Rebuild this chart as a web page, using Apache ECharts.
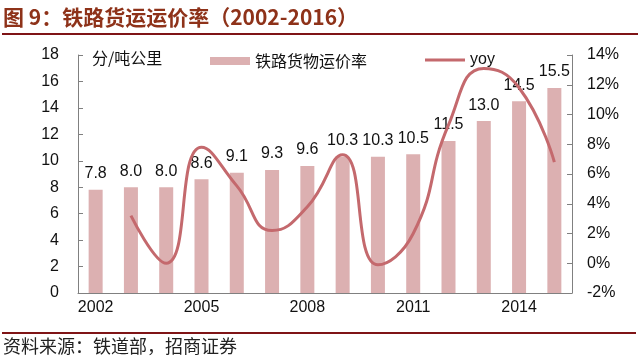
<!DOCTYPE html>
<html>
<head>
<meta charset="utf-8">
<script src="https://cdn.jsdelivr.net/npm/echarts@6/dist/echarts.min.js"></script>
<style>html,body{margin:0;padding:0;background:#fff}#c{width:640px;height:360px}</style>
</head>
<body>
<div id="c"></div>
<script>
var years = ['2002','2003','2004','2005','2006','2007','2008','2009','2010','2011','2012','2013','2014','2015'];
var freightRate = [7.8, 8.0, 8.0, 8.6, 9.1, 9.3, 9.6, 10.3, 10.3, 10.5, 11.5, 13.0, 14.5, 15.5];
var yoy = [null, 3.2, 0.0, 7.8, 5.2, 2.2, 3.8, 7.3, -0.1, 2.0, 9.3, 13.1, 11.8, 6.8];
var leftTicks = {min: 0, max: 18, interval: 2};
var rightTicks = {min: -2, max: 14, interval: 2};

var chart = echarts.init(document.getElementById('c'), null, {renderer: 'canvas'});
var fontF = 'Liberation Sans, Arial, sans-serif';
var cjk = '"Noto Sans CJK SC", sans-serif';
chart.setOption({
  animation: false,
  textStyle: {fontFamily: fontF},
  grid: {left: 78, right: 68, top: 55, bottom: 67},
  legend: [
    {left: 205, top: 48, itemWidth: 40, itemHeight: 8, itemGap: 10,
     textStyle: {fontSize: 16, color: '#111', fontFamily: cjk},
     data: [{name: '铁路货物运价率', icon: 'rect'}]},
    {left: 420, top: 47, itemWidth: 40, itemHeight: 3,
     textStyle: {fontSize: 16, color: '#111', fontFamily: fontF},
     data: [{name: 'yoy', icon: 'rect'}]}
  ],
  xAxis: {
    type: 'category', data: years, boundaryGap: true,
    axisLine: {lineStyle: {color: '#808080', width: 1}},
    axisTick: {inside: true, interval: 0, length: 5, lineStyle: {color: '#808080'}},
    axisLabel: {interval: 2, fontSize: 16, color: '#111', margin: 7}
  },
  yAxis: [
    {type: 'value', min: leftTicks.min, max: leftTicks.max, interval: leftTicks.interval,
     splitLine: {show: false},
     axisLine: {show: true, lineStyle: {color: '#808080'}},
     axisTick: {show: true, inside: true, length: 5, lineStyle: {color: '#808080'}},
     axisLabel: {fontSize: 16, color: '#111', margin: 19}},
    {type: 'value', min: rightTicks.min, max: rightTicks.max, interval: rightTicks.interval,
     position: 'right', splitLine: {show: false},
     axisLine: {show: true, lineStyle: {color: '#808080'}},
     axisTick: {show: true, inside: true, length: 5, lineStyle: {color: '#808080'}},
     axisLabel: {fontSize: 16, color: '#111', margin: 15, formatter: '{value}%'}}
  ],
  series: [
    {name: '铁路货物运价率', type: 'bar', data: freightRate, barWidth: 14,
     itemStyle: {color: '#dcb0b1'},
     label: {show: true, position: 'top', distance: 8, fontSize: 16, color: '#111',
             formatter: function(p){return p.value.toFixed(1);}}},
    {name: 'yoy', type: 'line', yAxisIndex: 1, data: yoy, smooth: 0.5,
     symbol: 'none', connectNulls: false,
     lineStyle: {color: '#c4696d', width: 3}, itemStyle: {color: '#c4696d'}}
  ],
  graphic: [
    {type: 'text', left: 3, top: 7, style: {text: '图 9：铁路货运运价率（2002-2016）', fontSize: 21, fontWeight: 'bold', fill: '#8e3219', fontFamily: cjk}},
    {type: 'rect', shape: {x: 2, y: 33, width: 636, height: 2}, style: {fill: '#7f1416'}},
    {type: 'text', left: 92, top: 50, style: {text: '分/吨公里', fontSize: 16, fill: '#111', fontFamily: cjk}},
    {type: 'rect', shape: {x: 2, y: 332, width: 634, height: 2}, style: {fill: '#7f1416'}},
    {type: 'text', left: 3, top: 337, style: {text: '资料来源：铁道部，招商证券', fontSize: 18, fill: '#222', fontFamily: cjk}}
  ]
});
</script>
</body>
</html>
